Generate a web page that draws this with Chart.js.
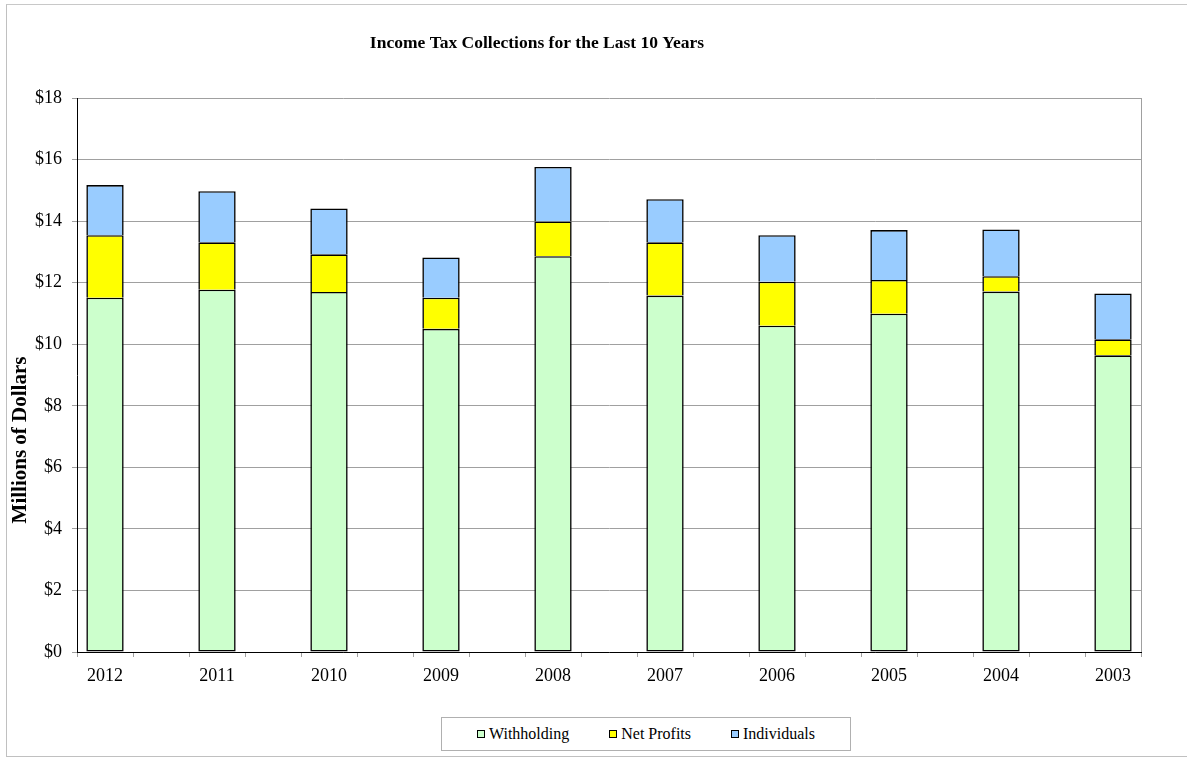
<!DOCTYPE html>
<html>
<head>
<meta charset="utf-8">
<script src="https://cdn.jsdelivr.net/npm/chart.js@4"></script>
<style>
  html, body { margin: 0; padding: 0; background: #fff; }
  #wrap { position: relative; width: 1187px; height: 759px; overflow: hidden; font-family: "Liberation Serif", "Times New Roman", serif; }
  #frame { position: absolute; left: 6px; top: 4px; width: 1200px; height: 753px; border-left: 1px solid #c0c0c0; border-top: 1px solid #c8c8c8; border-bottom: 1px solid #c0c0c0; box-sizing: border-box; }
  #chartBox { position: absolute; left: 0; top: 0; width: 1187px; height: 759px; }
  #legend { position: absolute; left: 441px; top: 717px; width: 410px; height: 34px; border: 1px solid #b0b0b0; box-sizing: border-box; display: flex; align-items: center; justify-content: center; gap: 40px; font-family: "Liberation Serif", "Times New Roman", serif; font-size: 16px; color: #000; background: #fff; }
  .item { display: flex; align-items: center; gap: 4px; white-space: nowrap; }
  .sw { width: 8px; height: 8px; border: 1px solid #000; box-sizing: border-box; }
</style>
</head>
<body>
<div id="wrap">
  <div id="frame"></div>
  <div id="chartBox"><canvas id="c"></canvas></div>
  <div id="legend"></div>
</div>
<script>
const years = ['2012','2011','2010','2009','2008','2007','2006','2005','2004','2003'];
const withholding = [11.51, 11.77, 11.70, 10.50, 12.86, 11.58, 10.60, 10.99, 11.71, 9.64];
const netProfits  = [2.03, 1.54, 1.22, 1.01, 1.13, 1.73, 1.43, 1.10, 0.50, 0.52];
const individuals = [1.63, 1.66, 1.49, 1.31, 1.77, 1.40, 1.51, 1.62, 1.52, 1.49];
const seriesNames = ['Withholding', 'Net Profits', 'Individuals'];
const seriesColors = ['#CCFFCC', '#FFFF00', '#99CCFF'];
const yTicks = [0, 2, 4, 6, 8, 10, 12, 14, 16, 18];
const titleText = 'Income Tax Collections for the Last 10 Years';
const yTitleText = 'Millions of Dollars';

const FONT = '"Liberation Serif", "Times New Roman", serif';

// Interleave empty slots between years (original chart has a blank category between bars)
function spread(arr, blank) {
  const out = [];
  arr.forEach((v, i) => { out.push(v); if (i < arr.length - 1) out.push(blank); });
  return out;
}
const labels = spread(years, '');
const seriesData = [withholding, netProfits, individuals];

const datasets = seriesNames.map((name, i) => ({
  label: name,
  data: spread(seriesData[i], null),
  backgroundColor: seriesColors[i],
  borderColor: '#000',
  borderWidth: { top: 1.6, left: 1.6, right: 1.6, bottom: i === 0 ? 1.6 : 0 },
  borderSkipped: false,
  barPercentage: 0.667,
  categoryPercentage: 1.0
}));

// HTML legend
const lg = document.getElementById('legend');
seriesNames.forEach((n, i) => {
  const it = document.createElement('div'); it.className = 'item';
  const sw = document.createElement('div'); sw.className = 'sw'; sw.style.background = seriesColors[i];
  const tx = document.createElement('span'); tx.textContent = n;
  it.appendChild(sw); it.appendChild(tx); lg.appendChild(it);
});

const extras = {
  id: 'extras',
  afterLayout(chart) {
    const t = chart.titleBlock;
    if (t) { const cx = 537; t.left = cx - 500; t.right = cx + 500; }
  },
  afterDatasetsDraw(chart) {
    const {ctx, chartArea: a} = chart;
    ctx.save();
    ctx.strokeStyle = '#a0a0a0';
    ctx.lineWidth = 1;
    ctx.beginPath();
    ctx.moveTo(Math.round(a.right) + 0.5, a.top);
    ctx.lineTo(Math.round(a.right) + 0.5, a.bottom);
    ctx.stroke();
    ctx.restore();
  },
  afterDraw(chart) {
    const ctx = chart.ctx;
    ctx.save();
    ctx.translate(21, 440);
    ctx.rotate(-Math.PI / 2);
    ctx.font = 'bold 21px ' + FONT;
    ctx.fillStyle = '#000';
    ctx.textAlign = 'center';
    ctx.textBaseline = 'middle';
    ctx.fillText(yTitleText, 0, 0);
    ctx.restore();
  }
};

new Chart(document.getElementById('c'), {
  type: 'bar',
  data: { labels, datasets },
  options: {
    responsive: true,
    maintainAspectRatio: false,
    animation: false,
    layout: { padding: { left: 0, right: 46, top: 0, bottom: 0 } },
    plugins: {
      legend: { display: false },
      tooltip: { enabled: false },
      title: {
        display: true,
        text: titleText,
        color: '#000',
        font: { family: FONT, size: 17.5, weight: 'bold', lineHeight: 1.2 },
        padding: { top: 32.5, bottom: 44.5 }
      }
    },
    scales: {
      x: {
        stacked: true,
        offset: true,
        afterFit(s) { s.height = 107; },
        grid: { display: true, drawOnChartArea: false, drawTicks: true, tickLength: 5, color: '#a0a0a0', offset: true },
        border: { display: true, color: '#000', width: 1 },
        ticks: { autoSkip: false, maxRotation: 0, minRotation: 0, padding: 8, color: '#000', font: { family: FONT, size: 18 } }
      },
      y: {
        stacked: true,
        min: 0,
        max: 18,
        afterFit(s) { s.width = 77; },
        afterBuildTicks(s) { s.ticks = yTicks.map(v => ({ value: v })); },
        grid: { color: '#a0a0a0', tickLength: 5, drawTicks: true },
        border: { display: true, color: '#000', width: 1 },
        ticks: { stepSize: 2, padding: 10, color: '#000', font: { family: FONT, size: 18 }, callback: v => '$' + v }
      }
    }
  },
  plugins: [extras]
});
</script>
</body>
</html>
